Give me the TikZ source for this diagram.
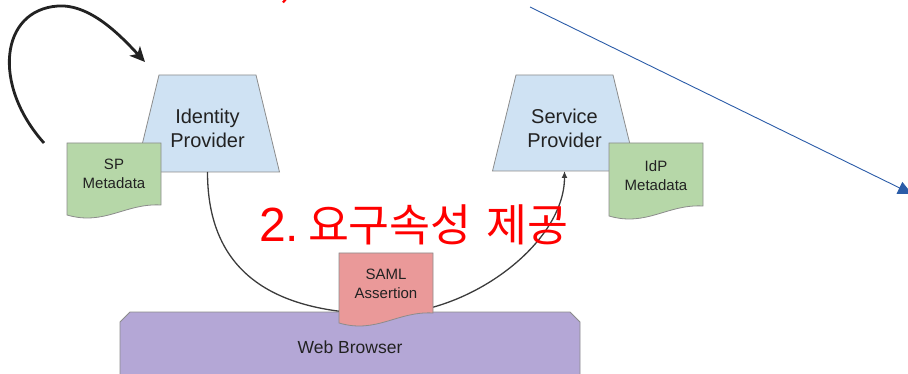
\documentclass[tikz,border=0pt]{standalone}
\usepackage{fontspec}
\setmainfont{Liberation Sans}
\newfontfamily\korfont{Noto Sans CJK KR}
\usetikzlibrary{arrows.meta}

\definecolor{ink}{HTML}{222222}
\definecolor{edgegray}{HTML}{8C8C8C}
\definecolor{curvegray}{HTML}{3C3C3C}
\definecolor{provfill}{HTML}{CFE2F3}
\definecolor{metafill}{HTML}{B6D7A8}
\definecolor{samlfill}{HTML}{EA9999}
\definecolor{browserfill}{HTML}{B4A7D6}
\definecolor{bluearrow}{HTML}{2B5CA8}

% document sheet with a wavy lower edge: fill, left, top, right, bottom-left
\newcommand{\docsheet}[5]{%
  \filldraw[docline, fill=#1] (#2,#3) -- (#4,#3) -- (#4,{#5-10})
    .. controls ({#2+0.62*(#4-#2)},{#5-12}) and ({#2+0.4*(#4-#2)},{#5+11}) .. (#2,#5) -- cycle;}

% trapezoid with narrow top: centre x, top y, bottom y
\newcommand{\trapbox}[3]{%
  \filldraw[docline, fill=provfill] ({#1-72},#3) -- ({#1-48.5},#2) -- ({#1+48.5},#2) -- ({#1+72},#3) -- cycle;}

\begin{document}
\begin{tikzpicture}[x=1pt,y=-1pt,
  every node/.style={inner sep=0pt, outer sep=0pt},
  boxtext/.style={align=center, text=ink, font=\fontsize{20}{24}\selectfont},
  doctext/.style={align=center, text=ink, font=\fontsize{15}{19}\selectfont},
  docline/.style={draw=edgegray, line width=0.8pt},
  flow/.style={draw=curvegray, line width=1.3pt, -{Latex[length=7pt,width=6pt]}},
  loopline/.style={draw=ink, line width=2.8pt, -{Stealth[length=15pt,width=14pt,inset=4pt]}},
  pointer/.style={draw=bluearrow, line width=0.9pt, -{Triangle[length=14pt,width=13pt]}}
]
\useasboundingbox (0,0) rectangle (908,374);

% providers
\trapbox{207.5}{75}{172}
\trapbox{564.5}{75}{171}
\coordinate (idpfoot) at (207.5,172);
\coordinate (spfoot) at (564.5,171);

% metadata sheets
\docsheet{metafill}{67}{143}{161}{215}
\docsheet{metafill}{609}{143}{703}{216}

% browser panel with chamfered top corners
\filldraw[docline, fill=browserfill] (120,400) -- (120,322) -- (130,312) -- (570,312) -- (580,322) -- (580,400);

% assertion path from identity provider to service provider
\coordinate (low) at (386,314);
\draw[flow] (idpfoot) .. controls +(0,98) and (270,314) .. (low)
  .. controls (470,314) and +(0,72) .. (spfoot);

% assertion sheet
\docsheet{samlfill}{339}{253}{433}{323}

% labels
\node[boxtext] (idp) at (207.5,128.8) {Identity\\Provider};
\node[boxtext] (sp) at (564.5,128.8) {Service\\Provider};
\node[doctext] (spmeta) at (114,174) {SP\\Metadata};
\node[doctext] (idpmeta) at (656,175.5) {IdP\\Metadata};
\node[doctext] (saml) at (386,284) {SAML\\Assertion};
\node[anchor=base, text=ink, font=\fontsize{17.5}{20}\selectfont] (browser) at (350,353) {Web Browser};

% self-loop arrow at the identity provider
\coordinate (loopstart) at (44,143);
\coordinate (loopend) at (145,62);
\draw[loopline] (loopstart) .. controls (-8,85) and (0,10) .. (58,6)
  .. controls (90,4) and (120,35) .. (loopend);

% long blue pointer
\coordinate (ptrstart) at (530,7);
\coordinate (ptrend) at (912,194);
\draw[pointer] (ptrstart) -- (ptrend);

% step caption
\node[anchor=base west, text=red] (step) at (259,242)
  {{\fontsize{48}{48}\selectfont 2.}\hspace{9pt}{\korfont\fontsize{44.5}{44.5}\selectfont 요구속성\hspace{0.34em}제공}};

% tail of the caption above
\draw[red, line width=2.2pt] (283,2.5) -- (286,-1);
\end{tikzpicture}
\end{document}
